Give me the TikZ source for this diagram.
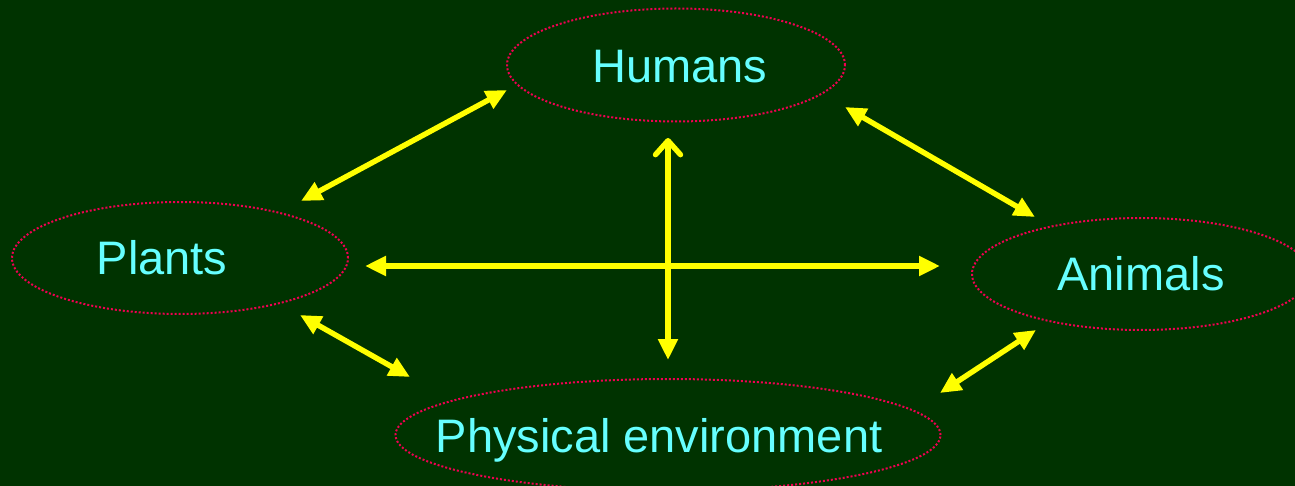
\documentclass[tikz,border=0pt]{standalone}
\usepackage{fontspec}
\setmainfont{Liberation Sans}
\usetikzlibrary{arrows.meta,shapes.geometric}
\definecolor{board}{RGB}{0,51,0}
\definecolor{label}{RGB}{102,255,255}
\definecolor{rim}{RGB}{240,0,80}
\definecolor{arrowy}{RGB}{255,255,0}
\begin{document}
\begin{tikzpicture}[x=.5pt,y=-.5pt,font=\fontsize{23.5}{28}\selectfont,
  >={Triangle[length=10.5pt,width=9.5pt]},
  blob/.style={ellipse,draw=rim,line width=1pt,dash pattern=on 1pt off 1pt,inner sep=0pt},
  word/.style={text=label,anchor=base,inner sep=0pt},
  link/.style={<->,arrowy,line width=2.7pt}]
\clip (0,0) rectangle (1295,486);
\fill[board] (0,0) rectangle (1295,486);
% the four parts of the system
\node[blob,minimum width=169pt,minimum height=56.5pt] (humans) at (676,65) {};
\node[blob,minimum width=168pt,minimum height=56pt] (plants) at (180,258) {};
\node[blob,minimum width=169pt,minimum height=56pt] (animals) at (1141,274) {};
\node[blob,minimum width=272.5pt,minimum height=56pt] (physenv) at (668,435) {};
\node[word] (humans-t) at (680,83) {Humans};
\node[word] (plants-t) at (162,275) {Plants};
\node[word] (animals-t) at (1141,291) {Animals};
\node[word] (physenv-t) at (659,452) {Physical environment};
% ends of the arrows
\coordinate (ph-a) at (301,201); \coordinate (ph-b) at (507,90);
\coordinate (ha-a) at (845,107); \coordinate (ha-b) at (1035,217);
\coordinate (pa-a) at (365,266); \coordinate (pa-b) at (940,266);
\coordinate (pe-a) at (300,315); \coordinate (pe-b) at (410,377);
\coordinate (ea-a) at (940,393); \coordinate (ea-b) at (1036,330);
\coordinate (he-a) at (668,138); \coordinate (he-b) at (668,360);
\foreach \n in {ph,ha,pa,pe,ea} \draw[link] (\n-a) -- (\n-b);
\draw[arrowy,line width=2.7pt,{Straight Barb[length=7pt,width=12.5pt,round]}->] (he-a) -- (he-b);
\end{tikzpicture}
\end{document}
